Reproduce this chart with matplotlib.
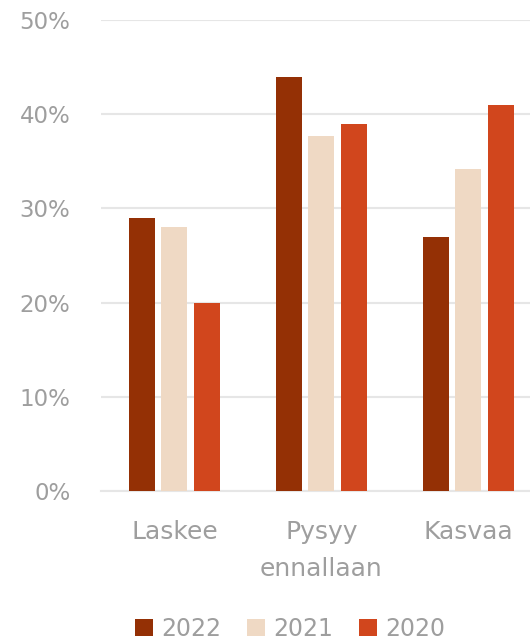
import numpy as np
import matplotlib.pyplot as plt

categories = ['Laskee', 'Pysyy\nennallaan', 'Kasvaa']
years = ['2022', '2021', '2020']
v2022 = [29, 44, 27]
v2021 = [28, 37.7, 34.2]
v2020 = [20, 39, 41]
colors = ['#943005', '#EFD9C4', '#D1461D']

plt.rcParams['font.family'] = ['DejaVu Sans']
grey = '#9E9E9E'

fig = plt.figure(figsize=(5.3, 6.44), dpi=100)
ax = fig.add_axes([0.1906, 0.2376, 0.8094, 0.7313])

x = np.arange(len(categories))
w = 0.177
step = 0.221
for i, (vals, lab) in enumerate(zip([v2022, v2021, v2020], years)):
    ax.bar(x + (i - 1) * step, vals, width=w, color=colors[i], label=lab, zorder=3)

ax.set_ylim(0, 50)
ax.set_xlim(-0.5, 2.42)
ax.set_yticks(range(0, 51, 10))
ax.set_yticklabels([f'{t}%' for t in range(0, 51, 10)])
ax.set_xticks(x)
ax.set_xticklabels(categories, linespacing=1.65)
ax.tick_params(axis='y', length=0, pad=22, labelsize=16.5, labelcolor=grey)
ax.tick_params(axis='x', length=0, pad=21, labelsize=18, labelcolor=grey)
ax.grid(axis='y', color='#E6E6E6', linewidth=1.5, zorder=0)
for s in ['top', 'right', 'left']:
    ax.spines[s].set_visible(False)
ax.spines['bottom'].set_color('#E6E6E6')
ax.spines['bottom'].set_linewidth(1.5)

fig.legend(loc='center', bbox_to_anchor=(0.547, 0.024), ncol=3, frameon=False,
           fontsize=17, labelcolor=grey, handlelength=0.75, handleheight=0.75,
           handletextpad=0.35, columnspacing=1.1, borderpad=0.1)

fig.savefig('out.png', dpi=100)
